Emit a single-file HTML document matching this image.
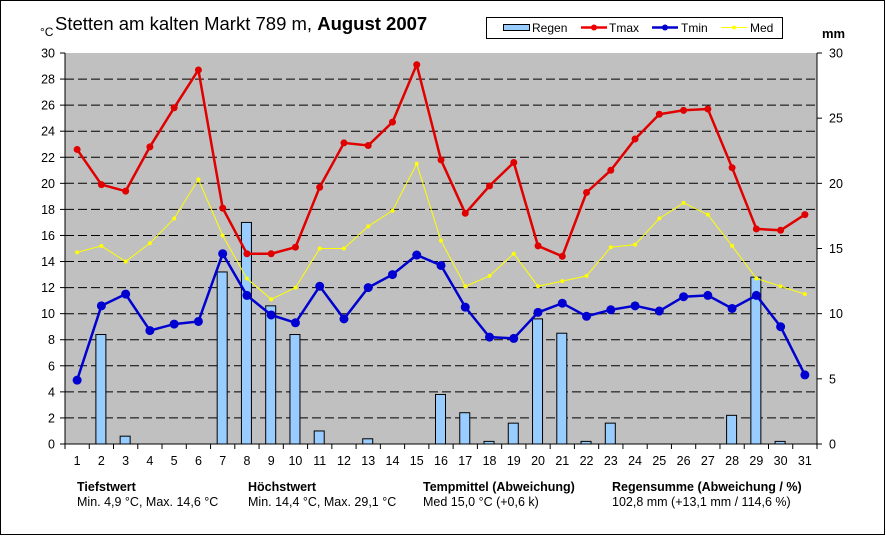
<!DOCTYPE html>
<html><head><meta charset="utf-8"><style>
body{margin:0;background:#fff;}
svg{display:block;font-family:"Liberation Sans",Arial,sans-serif;}
</style></head><body>
<svg id="c" width="886" height="536" xmlns="http://www.w3.org/2000/svg">
<rect x="0.5" y="0.5" width="884" height="534" fill="#fff" stroke="#000"/>
<rect x="65" y="53" width="752" height="391" fill="#c0c0c0"/>
<text x="40" y="36" font-size="12">°C</text>
<text x="55" y="30" font-size="18.5">Stetten am kalten Markt 789 m, <tspan font-weight="bold">August 2007</tspan></text>
<text x="822" y="38" font-size="13" font-weight="bold">mm</text>
<rect x="486.5" y="17.5" width="296" height="21" fill="#fff" stroke="#000"/>
<rect x="503.5" y="24.5" width="26" height="6" fill="#99ccff" stroke="#000"/>
<text x="532" y="32" font-size="12">Regen</text>
<line x1="581" y1="27.5" x2="607" y2="27.5" stroke="#e00" stroke-width="2.5"/><circle cx="594" cy="27.5" r="3" fill="#e00"/>
<text x="609" y="32" font-size="12">Tmax</text>
<line x1="652" y1="27.5" x2="678" y2="27.5" stroke="#00c" stroke-width="2.5"/><circle cx="665" cy="27.5" r="3" fill="#00c"/>
<text x="681" y="32" font-size="12">Tmin</text>
<line x1="721" y1="27.5" x2="747" y2="27.5" stroke="#ff0" stroke-width="1"/><circle cx="734" cy="27.5" r="2" fill="#ff0"/>
<text x="750" y="32" font-size="12">Med</text>
<g id="g"></g>
<g font-size="12.5">
<text x="77" y="491" font-weight="bold">Tiefstwert</text>
<text x="77" y="506">Min. 4,9 °C, Max. 14,6 °C</text>
<text x="248" y="491" font-weight="bold">Höchstwert</text>
<text x="248" y="506">Min. 14,4 °C, Max. 29,1 °C</text>
<text x="423" y="491" font-weight="bold">Tempmittel (Abweichung)</text>
<text x="423" y="506">Med 15,0 °C (+0,6 k)</text>
<text x="612" y="491" font-weight="bold">Regensumme (Abweichung / %)</text>
<text x="612" y="506">102,8 mm (+13,1 mm / 114,6 %)</text>
</g>
</svg>
<script>
var tmax=[22.6,19.9,19.4,22.8,25.8,28.7,18.1,14.6,14.6,15.1,19.7,23.1,22.9,24.7,29.1,21.8,17.7,19.8,21.6,15.2,14.4,19.3,21.0,23.4,25.3,25.6,25.7,21.2,16.5,16.4,17.6];
var tmin=[4.9,10.6,11.5,8.7,9.2,9.4,14.6,11.4,9.9,9.3,12.1,9.6,12.0,13.0,14.5,13.7,10.5,8.2,8.1,10.1,10.8,9.8,10.3,10.6,10.2,11.3,11.4,10.4,11.4,9.0,5.3];
var med=[14.7,15.2,14.0,15.4,17.3,20.3,16.0,12.7,11.1,12.0,15.0,15.0,16.7,17.9,21.5,15.6,12.1,12.9,14.6,12.1,12.5,12.9,15.1,15.3,17.3,18.5,17.6,15.2,12.7,12.1,11.5];
var rain=[0,8.4,0.6,0,0,0,13.2,17.0,10.6,8.4,1.0,0,0.4,0,0,3.8,2.4,0.2,1.6,9.6,8.5,0.2,1.6,0,0,0,0,2.2,12.8,0.2,0];
var L=65,R=817,T=53,B=444,dw=(R-L)/31,k=(B-T)/30;
function X(i){return L+(i+0.5)*dw}function Y(v){return B-v*k}
var s='';
for(var v=2;v<30;v+=2){var y=Y(v).toFixed(1);s+='<line x1="65" x2="817" y1="'+y+'" y2="'+y+'" stroke="#000" stroke-dasharray="9,4"/>';}
for(var v=0;v<=30;v+=2){var y=Y(v);s+='<line x1="60" x2="65" y1="'+y+'" y2="'+y+'" stroke="#000"/><text x="55" y="'+(y+4.5)+'" font-size="12.5" text-anchor="end">'+v+'</text>';}
for(var v=0;v<=30;v+=5){var y=Y(v);s+='<line x1="817" x2="822" y1="'+y+'" y2="'+y+'" stroke="#000"/><text x="829" y="'+(y+4.5)+'" font-size="12.5">'+v+'</text>';}
s+='<line x1="65" x2="65" y1="53" y2="444" stroke="#000"/><line x1="817" x2="817" y1="53" y2="444" stroke="#000"/><line x1="65" x2="817" y1="444" y2="444" stroke="#000"/>';
for(var i=0;i<=31;i++){var x=L+i*dw;s+='<line x1="'+x+'" x2="'+x+'" y1="444" y2="449" stroke="#000"/>';}
for(var i=0;i<31;i++){s+='<text x="'+X(i)+'" y="465" font-size="12.5" text-anchor="middle">'+(i+1)+'</text>';
 if(rain[i]>0){var h=rain[i]*k;s+='<rect x="'+(X(i)-5.5)+'" y="'+(B-h)+'" width="10" height="'+h+'" fill="#99ccff" stroke="#000"/>';}}
function line(d,c,w,r){var p=d.map(function(v,i){return X(i).toFixed(1)+','+Y(v).toFixed(1)}).join(' ');
 var o='<polyline points="'+p+'" fill="none" stroke="'+c+'" stroke-width="'+w+'"/>';
 d.forEach(function(v,i){o+='<circle cx="'+X(i)+'" cy="'+Y(v)+'" r="'+r+'" fill="'+c+'"/>';});return o;}
s+=line(med,'#ffff00',1,2);s+=line(tmax,'#e00000',2.5,3.5);s+=line(tmin,'#0000d0',2.5,4.5);
document.getElementById('g').innerHTML=s;
</script>
</body></html>
